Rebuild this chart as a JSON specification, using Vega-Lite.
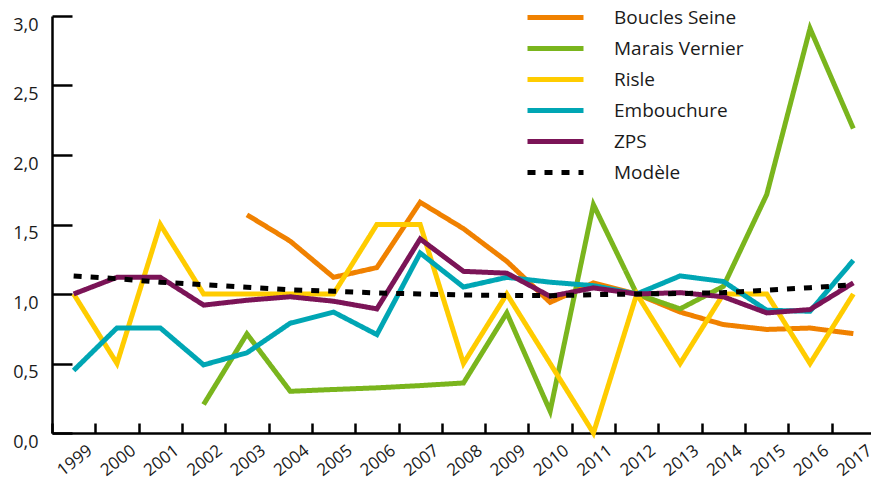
{
  "$schema": "https://vega.github.io/schema/vega-lite/v6.json",
  "width": 819,
  "height": 417,
  "autosize": "none",
  "padding": {"left": 52, "top": 16, "right": 0, "bottom": 49},
  "background": "white",
  "config": {
    "view": {"stroke": null},
    "font": "Open Sans",
    "axis": {"labelFont": "Open Sans", "labelFontSize": 18, "labelColor": "#1a1a1a", "domainColor": "#000", "domainWidth": 2.5, "tickColor": "#000", "tickWidth": 2.5, "grid": false, "title": null},
    "legend": {"labelFont": "Open Sans", "labelFontSize": 19, "labelColor": "#1a1a1a"}
  },
  "data": {"values": [
    {"series": "Boucles Seine", "year": 2003, "value": 1.57},
    {"series": "Boucles Seine", "year": 2004, "value": 1.38},
    {"series": "Boucles Seine", "year": 2005, "value": 1.12},
    {"series": "Boucles Seine", "year": 2006, "value": 1.19},
    {"series": "Boucles Seine", "year": 2007, "value": 1.66},
    {"series": "Boucles Seine", "year": 2008, "value": 1.47},
    {"series": "Boucles Seine", "year": 2009, "value": 1.235},
    {"series": "Boucles Seine", "year": 2010, "value": 0.94},
    {"series": "Boucles Seine", "year": 2011, "value": 1.08},
    {"series": "Boucles Seine", "year": 2012, "value": 1.0},
    {"series": "Boucles Seine", "year": 2013, "value": 0.87},
    {"series": "Boucles Seine", "year": 2014, "value": 0.78},
    {"series": "Boucles Seine", "year": 2015, "value": 0.745},
    {"series": "Boucles Seine", "year": 2016, "value": 0.755},
    {"series": "Boucles Seine", "year": 2017, "value": 0.715},
    {"series": "Marais Vernier", "year": 2002, "value": 0.205},
    {"series": "Marais Vernier", "year": 2003, "value": 0.713},
    {"series": "Marais Vernier", "year": 2004, "value": 0.3},
    {"series": "Marais Vernier", "year": 2005, "value": 0.313},
    {"series": "Marais Vernier", "year": 2006, "value": 0.325},
    {"series": "Marais Vernier", "year": 2007, "value": 0.341},
    {"series": "Marais Vernier", "year": 2008, "value": 0.36},
    {"series": "Marais Vernier", "year": 2009, "value": 0.864},
    {"series": "Marais Vernier", "year": 2010, "value": 0.157},
    {"series": "Marais Vernier", "year": 2011, "value": 1.643},
    {"series": "Marais Vernier", "year": 2012, "value": 1.0},
    {"series": "Marais Vernier", "year": 2013, "value": 0.893},
    {"series": "Marais Vernier", "year": 2014, "value": 1.055},
    {"series": "Marais Vernier", "year": 2015, "value": 1.715},
    {"series": "Marais Vernier", "year": 2016, "value": 2.91},
    {"series": "Marais Vernier", "year": 2017, "value": 2.19},
    {"series": "Risle", "year": 1999, "value": 1.0},
    {"series": "Risle", "year": 2000, "value": 0.5},
    {"series": "Risle", "year": 2001, "value": 1.5},
    {"series": "Risle", "year": 2002, "value": 1.0},
    {"series": "Risle", "year": 2003, "value": 1.0},
    {"series": "Risle", "year": 2004, "value": 1.0},
    {"series": "Risle", "year": 2005, "value": 1.0},
    {"series": "Risle", "year": 2006, "value": 1.5},
    {"series": "Risle", "year": 2007, "value": 1.5},
    {"series": "Risle", "year": 2008, "value": 0.5},
    {"series": "Risle", "year": 2009, "value": 1.0},
    {"series": "Risle", "year": 2010, "value": 0.5},
    {"series": "Risle", "year": 2011, "value": 0.0},
    {"series": "Risle", "year": 2012, "value": 1.0},
    {"series": "Risle", "year": 2013, "value": 0.5},
    {"series": "Risle", "year": 2014, "value": 1.0},
    {"series": "Risle", "year": 2015, "value": 1.0},
    {"series": "Risle", "year": 2016, "value": 0.5},
    {"series": "Risle", "year": 2017, "value": 1.0},
    {"series": "Embouchure", "year": 1999, "value": 0.45},
    {"series": "Embouchure", "year": 2000, "value": 0.756},
    {"series": "Embouchure", "year": 2001, "value": 0.756},
    {"series": "Embouchure", "year": 2002, "value": 0.49},
    {"series": "Embouchure", "year": 2003, "value": 0.577},
    {"series": "Embouchure", "year": 2004, "value": 0.79},
    {"series": "Embouchure", "year": 2005, "value": 0.87},
    {"series": "Embouchure", "year": 2006, "value": 0.708},
    {"series": "Embouchure", "year": 2007, "value": 1.295},
    {"series": "Embouchure", "year": 2008, "value": 1.05},
    {"series": "Embouchure", "year": 2009, "value": 1.12},
    {"series": "Embouchure", "year": 2010, "value": 1.085},
    {"series": "Embouchure", "year": 2011, "value": 1.06},
    {"series": "Embouchure", "year": 2012, "value": 1.0},
    {"series": "Embouchure", "year": 2013, "value": 1.13},
    {"series": "Embouchure", "year": 2014, "value": 1.09},
    {"series": "Embouchure", "year": 2015, "value": 0.883},
    {"series": "Embouchure", "year": 2016, "value": 0.876},
    {"series": "Embouchure", "year": 2017, "value": 1.242},
    {"series": "ZPS", "year": 1999, "value": 1.0},
    {"series": "ZPS", "year": 2000, "value": 1.12},
    {"series": "ZPS", "year": 2001, "value": 1.12},
    {"series": "ZPS", "year": 2002, "value": 0.92},
    {"series": "ZPS", "year": 2003, "value": 0.955},
    {"series": "ZPS", "year": 2004, "value": 0.98},
    {"series": "ZPS", "year": 2005, "value": 0.948},
    {"series": "ZPS", "year": 2006, "value": 0.893},
    {"series": "ZPS", "year": 2007, "value": 1.396},
    {"series": "ZPS", "year": 2008, "value": 1.163},
    {"series": "ZPS", "year": 2009, "value": 1.15},
    {"series": "ZPS", "year": 2010, "value": 0.983},
    {"series": "ZPS", "year": 2011, "value": 1.044},
    {"series": "ZPS", "year": 2012, "value": 1.0},
    {"series": "ZPS", "year": 2013, "value": 1.01},
    {"series": "ZPS", "year": 2014, "value": 0.98},
    {"series": "ZPS", "year": 2015, "value": 0.864},
    {"series": "ZPS", "year": 2016, "value": 0.888},
    {"series": "ZPS", "year": 2017, "value": 1.08},
    {"series": "Modèle", "year": 1999, "value": 1.13},
    {"series": "Modèle", "year": 2000, "value": 1.11},
    {"series": "Modèle", "year": 2001, "value": 1.085},
    {"series": "Modèle", "year": 2002, "value": 1.067},
    {"series": "Modèle", "year": 2003, "value": 1.048},
    {"series": "Modèle", "year": 2004, "value": 1.03},
    {"series": "Modèle", "year": 2005, "value": 1.02},
    {"series": "Modèle", "year": 2006, "value": 1.008},
    {"series": "Modèle", "year": 2007, "value": 1.0},
    {"series": "Modèle", "year": 2008, "value": 0.993},
    {"series": "Modèle", "year": 2009, "value": 0.99},
    {"series": "Modèle", "year": 2010, "value": 0.988},
    {"series": "Modèle", "year": 2011, "value": 0.995},
    {"series": "Modèle", "year": 2012, "value": 1.0},
    {"series": "Modèle", "year": 2013, "value": 1.003},
    {"series": "Modèle", "year": 2014, "value": 1.01},
    {"series": "Modèle", "year": 2015, "value": 1.027},
    {"series": "Modèle", "year": 2016, "value": 1.045},
    {"series": "Modèle", "year": 2017, "value": 1.067}
  ]},
  "mark": {"type": "line", "strokeWidth": 5, "strokeJoin": "miter", "clip": false},
  "encoding": {
    "x": {
      "field": "year", "type": "quantitative",
      "scale": {"domain": [1998.5, 2017.5], "range": [0, 823], "nice": false, "zero": false},
      "axis": {
        "values": [1998.5, 1999.5, 2000.5, 2001.5, 2002.5, 2003.5, 2004.5, 2005.5, 2006.5, 2007.5, 2008.5, 2009.5, 2010.5, 2011.5, 2012.5, 2013.5, 2014.5, 2015.5, 2016.5],
        "labelExpr": "format(datum.value + 0.5, 'd')",
        "labelOffset": 33,
        "labelAngle": -38,
        "labelFontSize": 17,
        "labelAlign": "right",
        "labelBaseline": "top",
        "tickSize": -10,
        "labelPadding": 19,
        "labelFlush": false,
        "labelOverlap": false,
        "labelBound": false
      }
    },
    "y": {
      "field": "value", "type": "quantitative",
      "scale": {"domain": [0, 3], "nice": false},
      "axis": {
        "values": [0, 0.5, 1, 1.5, 2, 2.5, 3],
        "labelExpr": "replace(format(datum.value, '.1f'), '.', ',')",
        "tickSize": -20,
        "labelPadding": 34,
        "labelBaseline": "top",
        "labelFlush": false,
        "labelOverlap": false,
        "labelBound": false
      }
    },
    "color": {
      "field": "series", "type": "nominal",
      "scale": {
        "domain": ["Boucles Seine", "Marais Vernier", "Risle", "Embouchure", "ZPS", "Modèle"],
        "range": ["#F08100", "#7AB51D", "#FFCC00", "#00A6B4", "#7B1457", "#000000"]
      },
      "legend": {
        "title": null,
        "orient": "none",
        "legendX": 487,
        "legendY": -15,
        "padding": 0,
        "symbolType": "M-2,0H2",
        "symbolSize": 784,
        "symbolStrokeWidth": 5,
        "labelOffset": 42,
        "rowPadding": 4
      }
    },
    "strokeDash": {
      "field": "series", "type": "nominal",
      "scale": {
        "domain": ["Boucles Seine", "Marais Vernier", "Risle", "Embouchure", "ZPS", "Modèle"],
        "range": [[1, 0], [1, 0], [1, 0], [1, 0], [1, 0], [8, 9]]
      },
      "legend": null
    }
  }
}
